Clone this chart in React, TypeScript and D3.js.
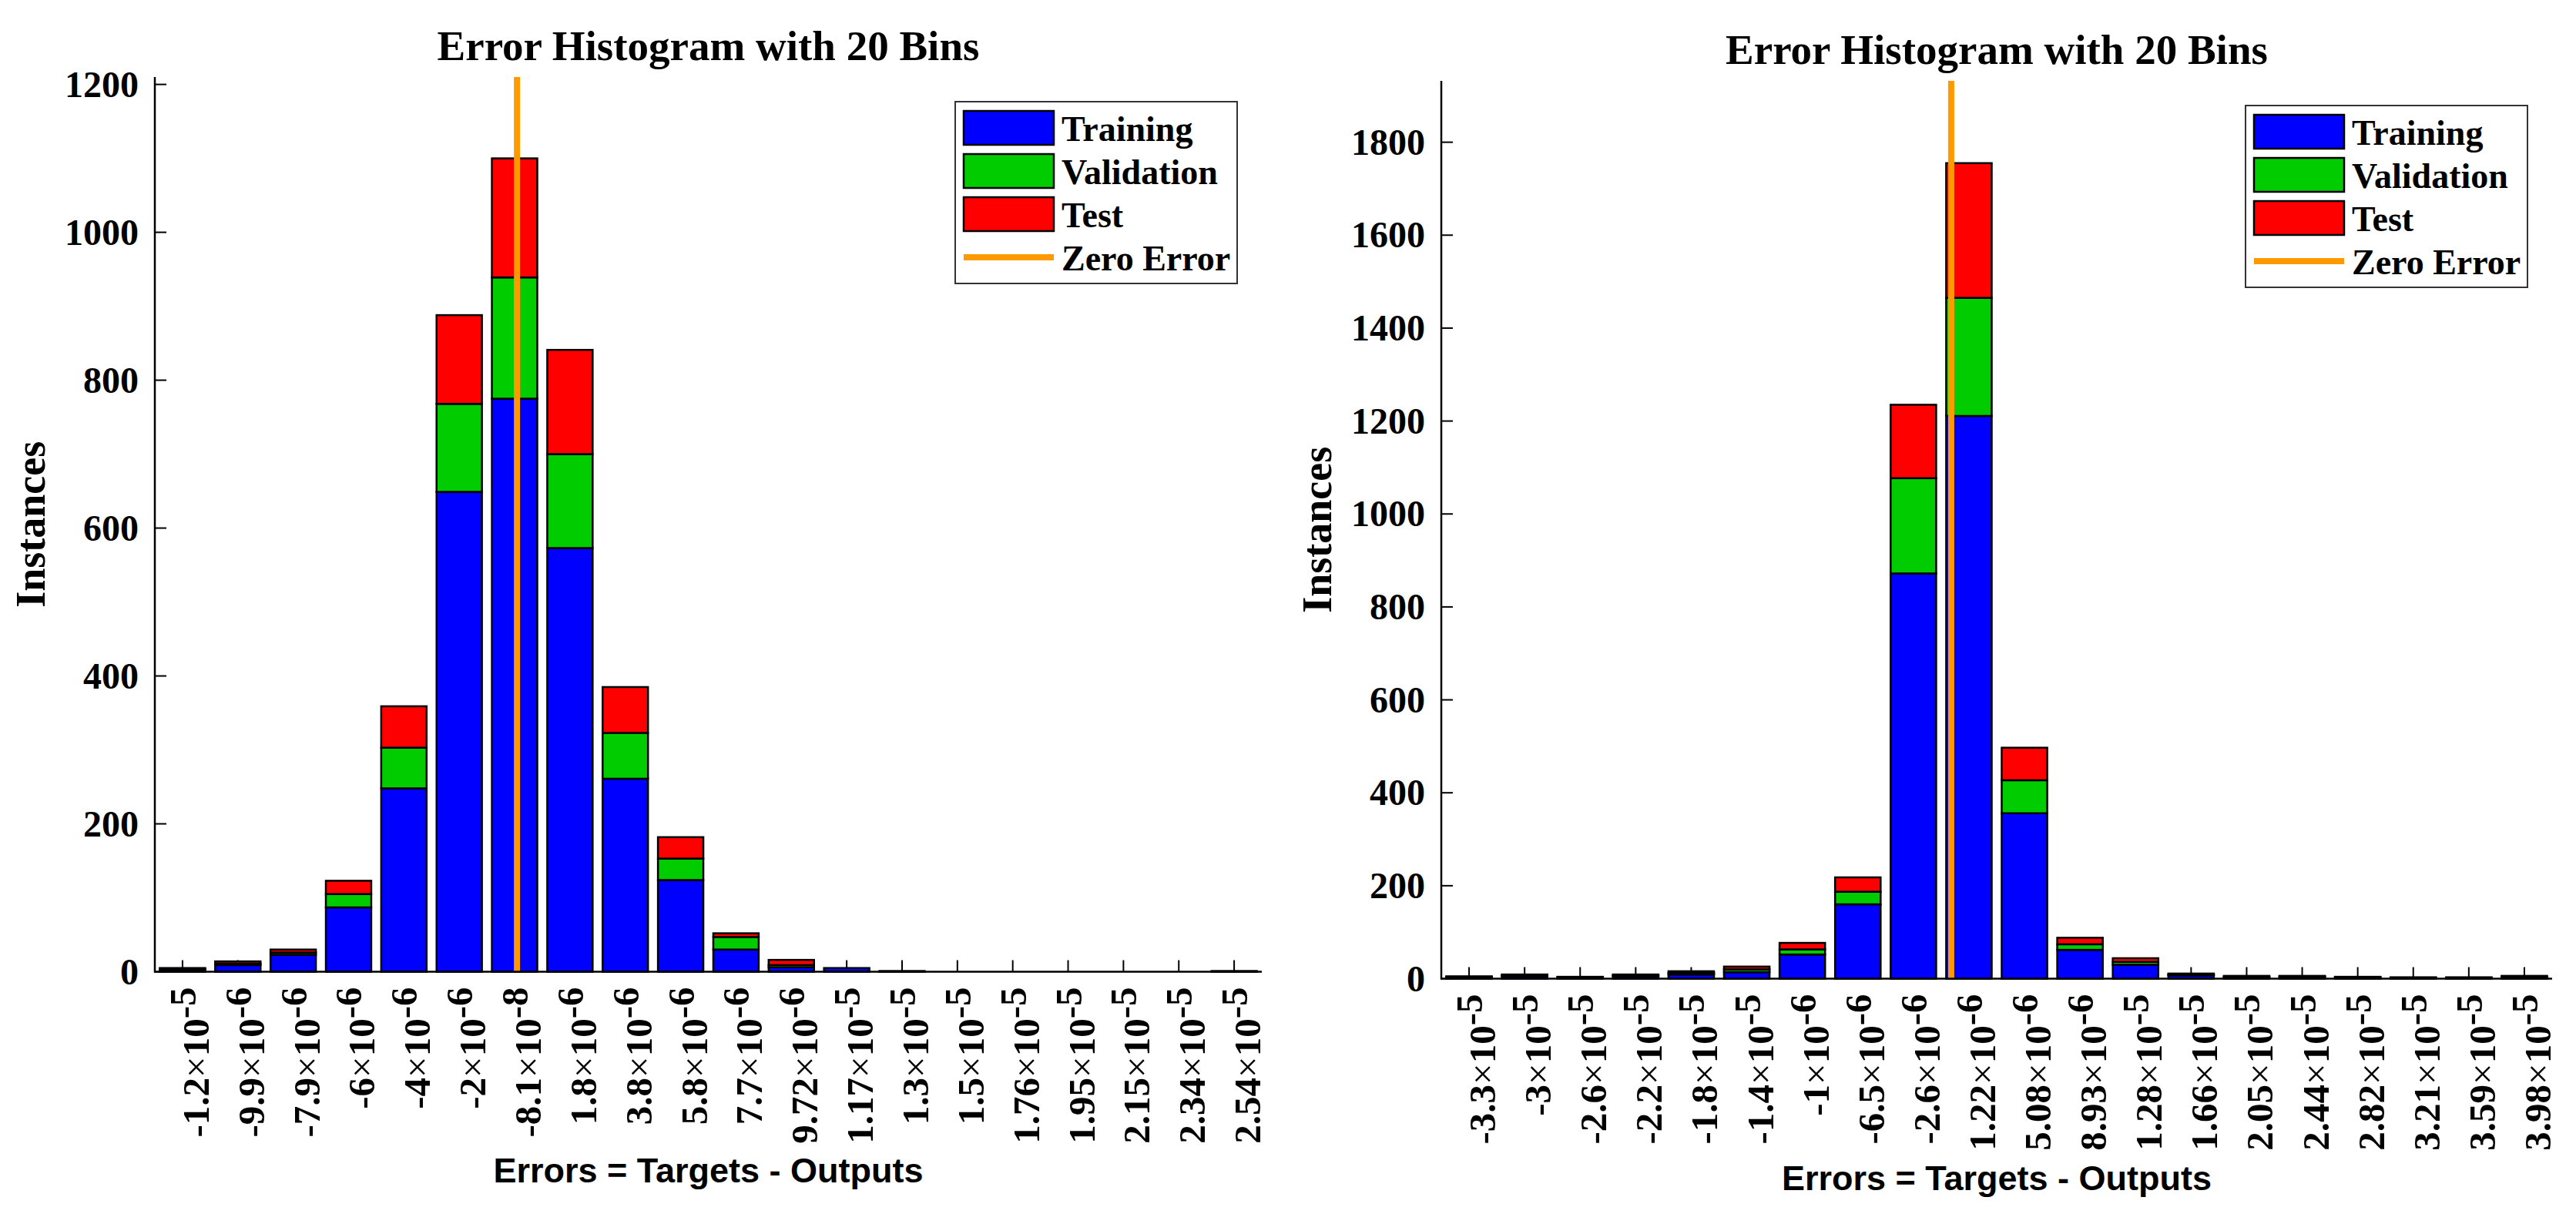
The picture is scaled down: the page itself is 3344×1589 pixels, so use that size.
import React from "react";
import * as d3 from "d3";

// ---------- data ----------
const seriesNames = ["Training", "Validation", "Test"];
const seriesColors = ["#0000FF", "#00CC00", "#FF0000"];
const zeroColor = "#FF9900";

// Left histogram
const leftTickLabels = [
  "-1.2e-5", "-9.9e-6", "-7.9e-6", "-6e-6", "-4e-6", "-2e-6", "-8.1e-8", "1.8e-6", "3.8e-6", "5.8e-6",
  "7.7e-6", "9.72e-6", "1.17e-5", "1.3e-5", "1.5e-5", "1.76e-5", "1.95e-5", "2.15e-5", "2.34e-5", "2.54e-5",
];
const leftBinCenters = [
  -1.2e-5, -9.9e-6, -7.9e-6, -6e-6, -4e-6, -2e-6, -8.1e-8, 1.8e-6, 3.8e-6, 5.8e-6,
  7.7e-6, 9.72e-6, 1.17e-5, 1.3e-5, 1.5e-5, 1.76e-5, 1.95e-5, 2.15e-5, 2.34e-5, 2.54e-5,
];
const leftTraining = [3, 9, 23, 87, 248, 649, 775, 573, 261, 124, 30, 6, 5, 1, 0, 0, 0, 0, 0, 1];
const leftValidation = [1, 2, 3, 18, 55, 119, 164, 127, 62, 29, 17, 3, 0, 0, 0, 0, 0, 0, 0, 0];
const leftTest = [1, 3, 4, 18, 56, 120, 161, 141, 62, 29, 5, 7, 0, 0, 0, 0, 0, 0, 0, 0];
const leftYTicks = [0, 200, 400, 600, 800, 1000, 1200];
const leftYMax = 1210;

// Right histogram
const rightTickLabels = [
  "-3.3e-5", "-3e-5", "-2.6e-5", "-2.2e-5", "-1.8e-5", "-1.4e-5", "-1e-6", "-6.5e-6", "-2.6e-6", "1.22e-6",
  "5.08e-6", "8.93e-6", "1.28e-5", "1.66e-5", "2.05e-5", "2.44e-5", "2.82e-5", "3.21e-5", "3.59e-5", "3.98e-5",
];
const rightBinCenters = [
  -3.3e-5, -3e-5, -2.6e-5, -2.2e-5, -1.8e-5, -1.4e-5, -1e-5, -6.5e-6, -2.6e-6, 1.22e-6,
  5.08e-6, 8.93e-6, 1.28e-5, 1.66e-5, 2.05e-5, 2.44e-5, 2.82e-5, 3.21e-5, 3.59e-5, 3.98e-5,
];
const rightTraining = [3, 5, 2, 5, 9, 14, 52, 160, 872, 1211, 356, 62, 30, 7, 3, 4, 2, 2, 2, 3];
const rightValidation = [1, 2, 1, 2, 3, 6, 11, 27, 205, 254, 71, 12, 6, 2, 1, 1, 1, 0, 1, 1];
const rightTest = [1, 2, 1, 2, 4, 6, 14, 31, 158, 290, 70, 14, 8, 2, 2, 1, 1, 1, 0, 2];
const rightYTicks = [0, 200, 400, 600, 800, 1000, 1200, 1400, 1600, 1800];
const rightYMax = 1932;

const titleText = "Error Histogram with 20 Bins";
const xLabelText = "Errors = Targets - Outputs";
const yLabelText = "Instances";

const SERIF = "'Liberation Serif', 'Times New Roman', serif";
const SANS = "'Liberation Sans', Arial, sans-serif";

type PanelProps = {
  x0: number;
  x1: number;
  yTop: number;
  yZero: number;
  yMax: number;
  yTicks: number[];
  labels: string[];
  centers: number[];
  series: number[][];
  titleY: number;
  xLabelY: number;
  yLabelX: number;
};

function Panel(p: PanelProps) {
  const n = p.labels.length;
  const band = d3
    .scaleBand<number>()
    .domain(d3.range(n))
    .range([p.x0, p.x1])
    .paddingInner(0.18)
    .paddingOuter(0.09);
  const y = d3.scaleLinear().domain([0, p.yMax]).range([p.yZero, p.yTop]);
  const centerX = (i: number) => (band(i) as number) + band.bandwidth() / 2;
  const errX = d3
    .scaleLinear()
    .domain(p.centers)
    .range(p.centers.map((_, i) => centerX(i)));

  const stack = d3.stack<number>().keys([0, 1, 2] as any).value((i: number, k: any) => p.series[k][i]);
  const stacked = stack(d3.range(n));

  const zx = errX(0);
  const midX = (p.x0 + p.x1) / 2;
  const midY = (p.yTop + p.yZero) / 2;

  // legend
  const lgW = 366;
  const lgH = 236;
  const lgX = p.x1 - 32 - lgW;
  const lgY = p.yTop + 32;

  return (
    <g>
      {/* title */}
      <text x={midX} y={p.titleY} textAnchor="middle" fontFamily={SERIF} fontWeight="bold" fontSize={55}>
        {titleText}
      </text>

      {/* x ticks (behind bars) */}
      {d3.range(n).map((i) => (
        <line key={"xt" + i} x1={centerX(i)} x2={centerX(i)} y1={p.yZero} y2={p.yZero - 15} stroke="#000" strokeWidth={2} />
      ))}
      {/* y ticks */}
      {p.yTicks.map((t) => (
        <line key={"yt" + t} x1={p.x0} x2={p.x0 + 15} y1={y(t)} y2={y(t)} stroke="#000" strokeWidth={2} />
      ))}

      {/* bars */}
      {stacked.map((layer, k) =>
        layer.map((d, i) => {
          const h = y(d[0]) - y(d[1]);
          if (h <= 0) return null;
          return (
            <rect
              key={`b${k}-${i}`}
              x={band(i)}
              width={band.bandwidth()}
              y={y(d[1])}
              height={h}
              fill={seriesColors[k]}
              stroke="#000"
              strokeWidth={2.5}
            />
          );
        })
      )}

      {/* zero error line */}
      <line x1={zx} x2={zx} y1={p.yTop} y2={p.yZero} stroke={zeroColor} strokeWidth={8} />

      {/* axes */}
      <line x1={p.x0} x2={p.x0} y1={p.yTop} y2={p.yZero + 1} stroke="#000" strokeWidth={2.5} />
      <line x1={p.x0 - 1} x2={p.x1} y1={p.yZero} y2={p.yZero} stroke="#000" strokeWidth={2.5} />

      {/* y tick labels */}
      {p.yTicks.map((t) => (
        <text key={"yl" + t} x={p.x0 - 21} y={y(t) + 16} textAnchor="end" fontFamily={SERIF} fontWeight="bold" fontSize={48}>
          {t}
        </text>
      ))}

      {/* x tick labels */}
      {p.labels.map((s, i) => {
        const [m, e] = s.split("e");
        return (
          <text
            key={"xl" + i}
            transform={`translate(${centerX(i) + 34},${p.yZero + 20}) rotate(-90)`}
            textAnchor="end"
            fontFamily={SERIF}
            fontWeight="bold"
            fontSize={49}
          >
            <tspan>{m}</tspan>
            <tspan fontWeight="normal">×</tspan>
            <tspan>10</tspan>
            <tspan dy={-17}>{e}</tspan>
          </text>
        );
      })}

      {/* axis labels */}
      <text x={midX} y={p.xLabelY} textAnchor="middle" fontFamily={SANS} fontWeight="bold" fontSize={45}>
        {xLabelText}
      </text>
      <text
        transform={`translate(${p.yLabelX},${midY}) rotate(-90)`}
        textAnchor="middle"
        fontFamily={SERIF}
        fontWeight="bold"
        fontSize={54}
      >
        {yLabelText}
      </text>

      {/* legend */}
      <rect x={lgX} y={lgY} width={lgW} height={lgH} fill="#fff" stroke="#333" strokeWidth={2} />
      {seriesNames.map((name, k) => (
        <g key={"lg" + k}>
          <rect x={lgX + 11} y={lgY + 12 + k * 56} width={117} height={44} fill={seriesColors[k]} stroke="#000" strokeWidth={2.5} />
          <text x={lgX + 138} y={lgY + 51 + k * 56} fontFamily={SERIF} fontWeight="bold" fontSize={46}>
            {name}
          </text>
        </g>
      ))}
      <line x1={lgX + 11} x2={lgX + 128} y1={lgY + 202} y2={lgY + 202} stroke={zeroColor} strokeWidth={8} />
      <text x={lgX + 138} y={lgY + 219} fontFamily={SERIF} fontWeight="bold" fontSize={46}>
        Zero Error
      </text>
    </g>
  );
}

export default function App() {
  return (
    <svg
      width={3344}
      height={1589}
      style={{ position: "absolute", left: 0, top: 0, background: "#fff" }}
      xmlns="http://www.w3.org/2000/svg"
    >
      <rect x={0} y={0} width={3344} height={1589} fill="#fff" />
      <Panel
        x0={201}
        x1={1638}
        yTop={100}
        yZero={1261.5}
        yMax={leftYMax}
        yTicks={leftYTicks}
        labels={leftTickLabels}
        centers={leftBinCenters}
        series={[leftTraining, leftValidation, leftTest]}
        titleY={78}
        xLabelY={1535}
        yLabelX={58}
      />
      <Panel
        x0={1871}
        x1={3313}
        yTop={105}
        yZero={1270.5}
        yMax={rightYMax}
        yTicks={rightYTicks}
        labels={rightTickLabels}
        centers={rightBinCenters}
        series={[rightTraining, rightValidation, rightTest]}
        titleY={83}
        xLabelY={1545}
        yLabelX={1728}
      />
    </svg>
  );
}
